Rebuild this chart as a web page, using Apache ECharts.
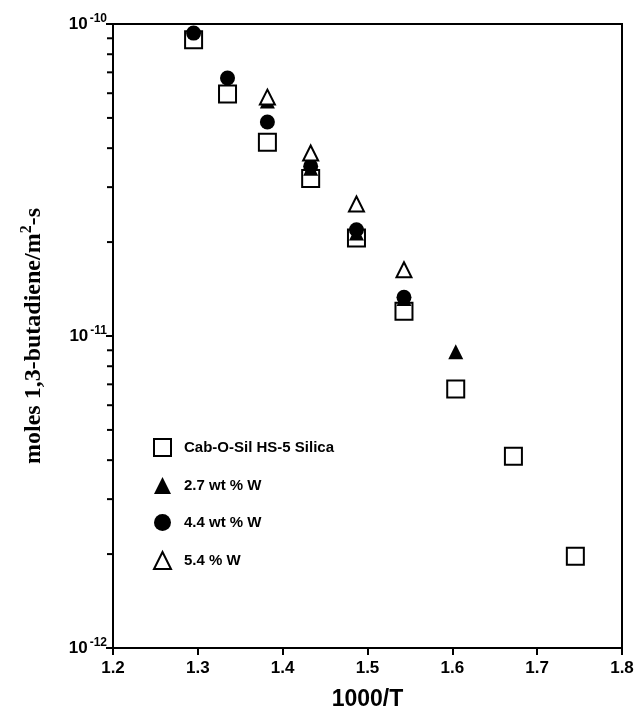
<!DOCTYPE html>
<html>
<head>
<meta charset="utf-8">
<script src="https://cdn.jsdelivr.net/npm/echarts@6/dist/echarts.min.js"></script>
<style>
  html, body { margin: 0; padding: 0; background: #fff; }
  #chart { width: 639px; height: 719px; }
</style>
</head>
<body>
<div id="chart"></div>
<script>
// 1000/T values and rates (moles/m2-s)
var silicaX = [1.295, 1.335, 1.382, 1.433, 1.487, 1.543, 1.604, 1.672, 1.745];
var silicaY = [8.9e-11, 5.97e-11, 4.18e-11, 3.2e-11, 2.06e-11, 1.2e-11, 6.76e-12, 4.12e-12, 1.97e-12];

var w27X = [1.382, 1.433, 1.487, 1.543, 1.604];
var w27Y = [5.66e-11, 3.45e-11, 2.14e-11, 1.32e-11, 8.9e-12];

var w44X = [1.295, 1.335, 1.382, 1.433, 1.487, 1.543];
var w44Y = [9.35e-11, 6.71e-11, 4.85e-11, 3.5e-11, 2.19e-11, 1.33e-11];

var w54X = [1.382, 1.433, 1.487, 1.543];
var w54Y = [5.83e-11, 3.86e-11, 2.65e-11, 1.63e-11];

var seriesNames = ['Cab-O-Sil HS-5 Silica', '2.7 wt % W', '4.4 wt % W', '5.4 % W'];
var xTicks = [1.2, 1.3, 1.4, 1.5, 1.6, 1.7, 1.8];
var yMajor = [1e-12, 1e-11, 1e-10];
var yMinor = [2e-12, 3e-12, 4e-12, 5e-12, 6e-12, 7e-12, 8e-12, 9e-12,
              2e-11, 3e-11, 4e-11, 5e-11, 6e-11, 7e-11, 8e-11, 9e-11];

function pairs(xs, ys) {
    var out = [];
    for (var i = 0; i < xs.length; i++) out.push([xs[i], ys[i]]);
    return out;
}

var chart = echarts.init(document.getElementById('chart'));

var sansBold = { fontFamily: 'Liberation Sans', fontWeight: 'bold', color: '#000' };

var option = {
    animation: false,
    backgroundColor: '#fff',
    grid: {
        left: 113, right: 17, top: 24, bottom: 71,
        show: true, borderColor: '#000', borderWidth: 2
    },
    legend: {
        orient: 'vertical',
        left: 148, top: 433,
        itemWidth: 17, itemHeight: 17,
        itemGap: 20,
        data: seriesNames,
        textStyle: {
            fontFamily: 'Liberation Sans', fontWeight: 'bold', fontSize: 15, color: '#000',
            padding: [0, 0, 0, 8]
        }
    },
    xAxis: {
        type: 'value',
        min: 1.2, max: 1.8, interval: 0.1,
        name: '1000/T',
        nameLocation: 'middle',
        nameGap: 40,
        nameTextStyle: Object.assign({ fontSize: 23 }, sansBold),
        axisLine: { lineStyle: { color: '#000', width: 2 } },
        axisTick: { inside: false, length: 7, lineStyle: { color: '#000', width: 2 } },
        axisLabel: Object.assign({
            fontSize: 17, margin: 12,
            formatter: function (v) { return v.toFixed(1); }
        }, sansBold),
        splitLine: { show: false }
    },
    yAxis: {
        type: 'log',
        logBase: 10,
        min: yMajor[0], max: yMajor[2],
        name: '{a|moles 1,3-butadiene/m}{sup|2}{a|-s}',
        nameLocation: 'middle',
        nameGap: 64,
        nameTextStyle: {
            rich: {
                a: { fontFamily: 'Liberation Serif', fontWeight: 'bold', fontSize: 24, color: '#000' },
                sup: { fontFamily: 'Liberation Serif', fontWeight: 'bold', fontSize: 16, color: '#000', padding: [0, 0, 14, 0] }
            }
        },
        axisLine: { lineStyle: { color: '#000', width: 2 } },
        axisTick: { inside: false, length: 7, lineStyle: { color: '#000', width: 2 } },
        axisLabel: {
            margin: 6,
            formatter: function (v) {
                var e = Math.round(Math.log(v) / Math.LN10);
                return '{b|10}{s|' + e + '}';
            },
            rich: {
                b: { fontFamily: 'Liberation Sans', fontWeight: 'bold', fontSize: 17, color: '#000' },
                s: { fontFamily: 'Liberation Sans', fontWeight: 'bold', fontSize: 12, color: '#000', padding: [0, 0, 11, 2] }
            }
        },
        splitLine: { show: false }
    },
    series: [
        {
            // minor log ticks on the y axis
            type: 'custom',
            silent: true,
            data: yMinor.map(function (v) { return [xTicks[0], v]; }),
            renderItem: function (params, api) {
                var p = api.coord([api.value(0), api.value(1)]);
                return {
                    type: 'line',
                    shape: { x1: p[0] - 6, y1: p[1], x2: p[0], y2: p[1] },
                    style: { stroke: '#000', lineWidth: 2 }
                };
            },
            clip: false,
            z: 1
        },
        {
            name: seriesNames[0],
            type: 'scatter',
            symbol: 'rect',
            symbolSize: 17,
            data: pairs(silicaX, silicaY),
            itemStyle: { color: '#fff', borderColor: '#000', borderWidth: 2, opacity: 1 },
            z: 2
        },
        {
            name: seriesNames[1],
            type: 'scatter',
            symbol: 'triangle',
            symbolSize: 15,
            data: pairs(w27X, w27Y),
            itemStyle: { color: '#000', opacity: 1 },
            z: 3
        },
        {
            name: seriesNames[2],
            type: 'scatter',
            symbol: 'circle',
            symbolSize: 15,
            data: pairs(w44X, w44Y),
            itemStyle: { color: '#000', opacity: 1 },
            z: 4
        },
        {
            name: seriesNames[3],
            type: 'scatter',
            symbol: 'triangle',
            symbolSize: 15,
            data: pairs(w54X, w54Y),
            itemStyle: { color: '#fff', borderColor: '#000', borderWidth: 2, opacity: 1 },
            z: 5
        }
    ]
};

chart.setOption(option);
</script>
</body>
</html>
